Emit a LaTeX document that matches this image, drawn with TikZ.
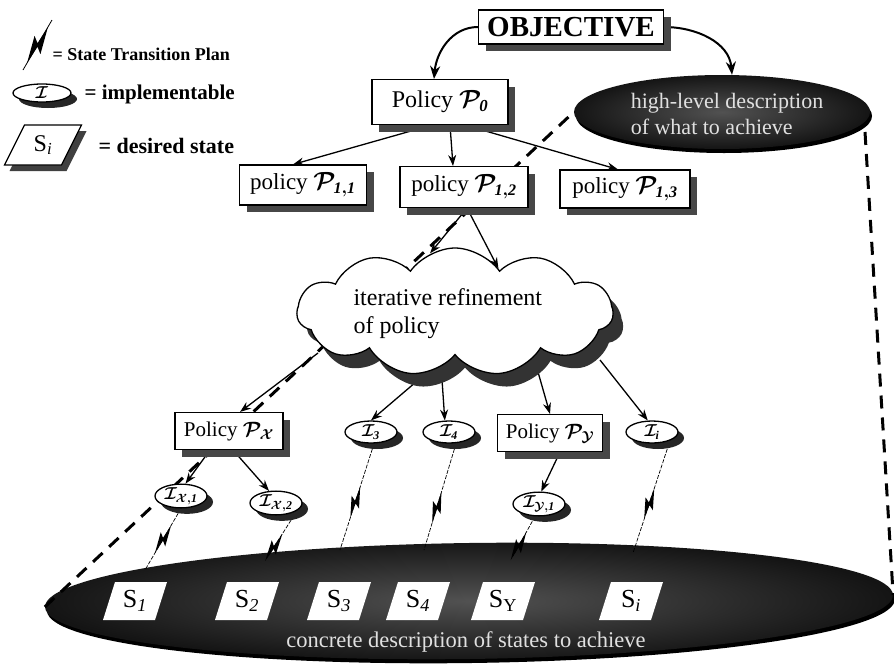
\documentclass[tikz,border=0pt]{standalone}
\usepackage{fontspec}
\setmainfont{Liberation Serif}
\usetikzlibrary{arrows.meta,shapes.symbols,shapes.geometric,calc,shadows}
\pgfdeclarelayer{back}\pgfdeclarelayer{mid}
\pgfsetlayers{back,mid,main}
\tikzset{
 pbox/.style={draw, fill=white, line width=1.1pt, inner sep=0pt,
   drop shadow={shadow xshift=7pt, shadow yshift=-7pt, fill=black!72, opacity=1}},
 impl/.style={ellipse, draw, fill=white, line width=1.3pt, minimum width=52pt, minimum height=22pt, inner sep=0pt,
   drop shadow={shadow xshift=6pt, shadow yshift=-6pt, fill=black!85, opacity=1}, font=\fontsize{17}{17}\selectfont\boldmath},
 arr/.style={-{Stealth[length=11pt,width=8pt]}, line width=1.3pt},
 bigarr/.style={-{Stealth[length=13pt,width=10pt]}, line width=2pt},
 bigdash/.style={line width=3pt, dash pattern=on 13pt off 9pt},
 flash/.style={line width=.7pt, dash pattern=on 4pt off 1.5pt},
 darkell/.style={ellipse, inner sep=0pt, inner color=black!68, outer color=black!92,
   drop shadow={shadow xshift=2pt, shadow yshift=-4pt, fill=black, opacity=1}},
 desctext/.style={text=white!88!black},
 stlabel/.style={font=\fontsize{26}{26}\selectfont, inner sep=0pt},
 bolt/.pic={\fill[solid] (-16,0) -- (5,-5.5) -- (1.2,-.7) -- (16,0) -- (-5,5.5) -- (-1.2,.7) -- cycle;},
}
\newcommand\stbox[4]{%
 \fill[white] ({#2-32},{#3+19}) -- ({#2+20},{#3+19}) -- ({#2+32},{#3-19}) -- ({#2-20},{#3-19}) -- cycle;
 \node[stlabel] (#1) at (#2,#3) {#4};}
\begin{document}
\begin{tikzpicture}[x=1pt,y=-1pt]
\useasboundingbox (0,0) rectangle (894,667);
% background ellipses
\begin{pgfonlayer}{back}
\fill[white] (0,0) rectangle (894,667);
\node[darkell, minimum width=848pt, minimum height=116pt, rotate=0.8] (bigell) at (469,601) {};
\node[darkell, minimum width=296pt, minimum height=74pt] (hl) at (722,112) {};
\end{pgfonlayer}
\node[desctext, align=left, font=\fontsize{22}{26}\selectfont] (hltext) at (727,114) {high-level description\\of what to achieve};
\node[desctext, font=\fontsize{22.5}{22.5}\selectfont] (desc) at (466,642) {concrete description of states to achieve};
% states
\stbox{s1}{135}{601}{S\textsubscript{\itshape 1}}
\stbox{s2}{247}{601}{S\textsubscript{\itshape 2}}
\stbox{s3}{339}{601}{S\textsubscript{\itshape 3}}
\stbox{s4}{418}{601}{S\textsubscript{\itshape 4}}
\stbox{sy}{503}{601}{S\textsubscript{Y}}
\stbox{si}{631}{601}{S\textsubscript{\itshape i}}
% legend
\coordinate (lb1) at (23,70);
\coordinate (lb2) at (52,20);
\draw[line width=.8pt] (lb1) -- (lb2) pic[pos=.5,sloped,scale=1.3]{bolt};
\node[anchor=west, font=\fontsize{18}{18}\selectfont\bfseries] (lt1) at (49,54) {= State Transition Plan};
\node[impl, minimum width=58pt, minimum height=18pt] (limpl) at (42,93) {$\mathcal{I}$};
\node[anchor=west, font=\fontsize{21}{21}\selectfont\bfseries] (lt2) at (81,94) {= implementable};
\fill[black!75] (9.5,171) -- (66.5,171) -- (86.5,131) -- (29.5,131) -- cycle;
\filldraw[fill=white, line width=1.2pt] (4.5,165) -- (61.5,165) -- (81.5,125) -- (24.5,125) -- cycle;
\node[stlabel, font=\fontsize{24}{24}\selectfont] (lstate) at (43,145) {S\textsubscript{\itshape i}};
\node[anchor=west, font=\fontsize{22}{22}\selectfont\bfseries] (lt3) at (95,146) {= desired state};
% boxes
\node[pbox, font=\fontsize{29}{31}\selectfont\bfseries, minimum width=185pt, minimum height=34pt] (obj) at (571,27) {OBJECTIVE};
\node[pbox, font=\fontsize{24}{26}\selectfont\boldmath, minimum width=136pt, minimum height=45pt] (P0) at (440,102) {Policy $\mathcal{P}_{\mathit{0}}$};
\node[pbox, font=\fontsize{23}{25}\selectfont\boldmath, minimum width=127pt, minimum height=40pt] (P11) at (303,185) {policy $\mathcal{P}_{\mathit{1,1}}$};
\node[pbox, font=\fontsize{23}{25}\selectfont\boldmath, minimum width=128pt, minimum height=41pt] (P12) at (464,187) {policy $\mathcal{P}_{\mathit{1,2}}$};
\node[pbox, font=\fontsize{23}{25}\selectfont\boldmath, minimum width=130pt, minimum height=38pt] (P13) at (625,189) {policy $\mathcal{P}_{\mathit{1,3}}$};
\node[pbox, font=\fontsize{21}{23}\selectfont\boldmath, minimum width=108pt, minimum height=37pt] (Px) at (229,431) {Policy $\mathcal{P}_{\mathcal{X}}$};
\node[pbox, font=\fontsize{21}{23}\selectfont\boldmath, minimum width=105pt, minimum height=37pt] (Py) at (550,433) {Policy $\mathcal{P}_{\mathcal{Y}}$};
% cloud
\node[cloud, draw, fill=white, cloud puffs=11, cloud puff arc=110, aspect=2.4, minimum width=316pt, minimum height=128pt, line width=1.3pt,
  drop shadow={shadow xshift=10pt, shadow yshift=-13pt, fill=black!80, opacity=1}] (cloud) at (455,312) {};
\node[anchor=west, align=left, font=\fontsize{24}{28}\selectfont] (ctext) at (350,314) {iterative refinement\\of policy};
% implementables
\node[impl] (I3) at (371,432) {$\mathcal{I}_{\mathit{3}}$};
\node[impl] (I4) at (449,432) {$\mathcal{I}_{\mathit{4}}$};
\node[impl] (Ii) at (652,432) {$\mathcal{I}_{\mathit{i}}$};
\node[impl] (Ix1) at (181,496) {$\mathcal{I}_{\mathcal{X}\mathit{,1}}$};
\node[impl] (Ix2) at (276,503) {$\mathcal{I}_{\mathcal{X}\mathit{,2}}$};
\node[impl] (Iy1) at (539,504) {$\mathcal{I}_{\mathcal{Y}\mathit{,1}}$};
% ends of transition plans on the lower ellipse
\coordinate (e1) at (145,570);
\coordinate (e2) at (267,558);
\coordinate (e3) at (340,550);
\coordinate (e4) at (424,550);
\coordinate (ey) at (513,556);
\coordinate (ei) at (633,553);
\coordinate (hr) at (865,132);
\begin{pgfonlayer}{mid}
\draw[bigdash] (bigell.west) -- (hl.west);
\draw[bigdash] (hr) -- (bigell.east);
\draw[bigarr] (obj.west) to[out=180,in=85] ($(P0.north)+(-6,0)$);
\draw[bigarr] (obj.east) to[out=0,in=95] ($(hl.north)+(10,0)$);
\draw[arr] ($(P0.south)+(-8,0)$) -- ($(P11.north)+(-10,0)$);
\draw[arr] ($(P0.south)+(10,0)$) -- ($(P12.north)+(-11,0)$);
\draw[arr] ($(P0.south)+(25,0)$) -- ($(P13.north)+(-7,0)$);
\draw[arr] ($(P12.south)+(3,0)$) -- (cloud.113);
\draw[arr] ($(P12.south)+(3,0)$) -- (cloud.45);
\draw[arr] ($(cloud.center)+(-137,41)$) -- ($(Px.north)+(11,0)$);
\draw[arr] ($(cloud.center)+(-25,58)$) -- (I3.north);
\draw[arr] ($(cloud.center)+(-14,53)$) -- (I4.110);
\draw[arr] ($(cloud.center)+(81,53)$) -- (Py.north);
\draw[arr] ($(cloud.center)+(145,48)$) -- (Ii.110);
\draw[arr] ($(Px.south)+(-19,0)$) -- (Ix1.70);
\draw[arr] ($(Px.south)+(4,0)$) -- (Ix2.120);
\draw[arr] ($(Py.south)+(10,0)$) -- (Iy1.80);
\draw[flash] (Ix1.south) -- (e1) pic[pos=.5,sloped]{bolt};
\draw[flash] ($(Ix2.south)+(18,0)$) -- (e2) pic[pos=.75,sloped]{bolt};
\draw[flash] ($(I3.south)+(3,0)$) -- (e3) pic[pos=.55,sloped]{bolt};
\draw[flash] ($(I4.south)+(7,0)$) -- (e4) pic[pos=.6,sloped]{bolt};
\draw[flash] ($(Iy1.south)+(-4,0)$) -- (ey) pic[pos=.75,sloped]{bolt};
\draw[flash] ($(Ii.south)+(17,0)$) -- (ei) pic[pos=.55,sloped]{bolt};
\end{pgfonlayer}
\end{tikzpicture}
\end{document}
